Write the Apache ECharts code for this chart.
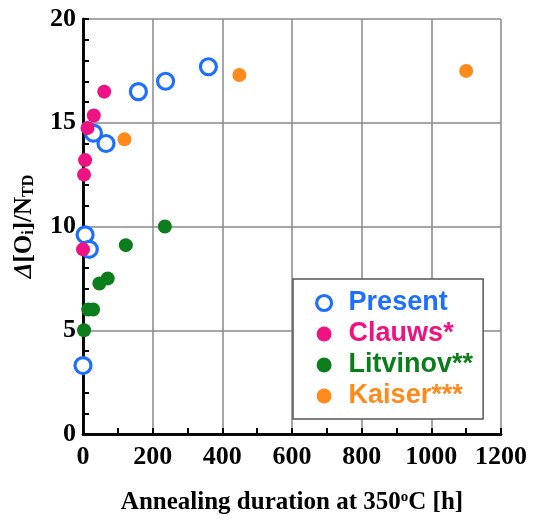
<!DOCTYPE html>
<html>
<head>
<meta charset="utf-8">
<script src="https://cdn.jsdelivr.net/npm/echarts@6/dist/echarts.min.js"></script>
<style>
  html, body { margin: 0; padding: 0; background: #fff; }
  #chart { width: 534px; height: 520px; }
</style>
</head>
<body>
<div id="chart"></div>
<script>
// annealing duration [h] and Δ[Oi]/NTD
const presentX = [360, 237, 159, 66, 30, 6, 18, 0];
const presentY = [17.7, 17.0, 16.5, 14.0, 14.5, 9.6, 8.9, 3.3];

const clauwsX = [61, 31, 13, 6, 3, 0];
const clauwsY = [16.5, 15.35, 14.75, 13.2, 12.5, 8.9];

const litvinovX = [235, 123, 71, 47, 29, 15, 3];
const litvinovY = [10.0, 9.1, 7.5, 7.25, 6.0, 6.0, 5.0];

const kaiserX = [449, 119, 1100];
const kaiserY = [17.3, 14.2, 17.5];

const seriesNames = ['Present', 'Clauws*', 'Litvinov**', 'Kaiser***'];
const seriesColors = ['#1f6fff', '#ee1282', '#0b7d1b', '#ff8a1c'];

const pairs = (xs, ys) => xs.map((x, i) => [x, ys[i]]);

const serif = 'Liberation Serif, Times New Roman, serif';
const sans = 'Liberation Sans, Arial, sans-serif';

const chart = echarts.init(document.getElementById('chart'));

const option = {
  animation: false,
  grid: { left: 83, top: 19, right: 33, bottom: 86 },
  legend: {
    orient: 'vertical',
    left: 293,
    top: 279,
    padding: [10, 10, 9, 22],
    itemGap: 3,
    itemWidth: 15,
    itemHeight: 15,
    borderColor: '#555',
    borderWidth: 1.5,
    backgroundColor: '#fff',
    textStyle: { fontFamily: sans, fontWeight: 'bold', fontSize: 27, lineHeight: 28, padding: [0, 0, 0, 12] },
    data: seriesNames.map((n, i) => ({
      name: n,
      textStyle: { color: seriesColors[i] },
      itemStyle: i === 0 ? { borderWidth: 3.2 } : undefined
    }))
  },
  xAxis: [{
    type: 'value',
    min: 0, max: 1200, interval: 200,
    name: 'Annealing duration at 350{sup|o}C [h]',
    nameLocation: 'middle',
    nameGap: 56,
    nameTextStyle: {
      fontFamily: serif, fontWeight: 'bold', fontSize: 25, color: '#000',
      rich: { sup: { fontFamily: serif, fontWeight: 'bold', fontSize: 15, verticalAlign: 'top', padding: [0, 0, 6, 0], color: '#000' } }
    },
    axisLine: { lineStyle: { color: '#000', width: 2.5 } },
    axisTick: { inside: true, length: 6, lineStyle: { color: '#000', width: 2 } },
    minorTick: { show: true, splitNumber: 2, length: 6, lineStyle: { color: '#000', width: 2 } },
    splitLine: { show: true, lineStyle: { color: '#888', width: 1.5 } },
    axisLabel: { fontFamily: serif, fontWeight: 'bold', fontSize: 26, color: '#000', margin: 10, formatter: v => String(v) }
  }, {
    type: 'value', position: 'top', min: 0, max: 1200,
    axisLine: { show: true, lineStyle: { color: '#000', width: 2.5 } },
    axisTick: { show: false }, axisLabel: { show: false }, splitLine: { show: false }
  }],
  yAxis: [{
    type: 'value',
    min: 0, max: 20, interval: 5,
    name: '{d|Δ}[O{s|i}]/N{s|TD}',
    nameLocation: 'middle',
    nameGap: 46,
    nameTextStyle: {
      fontFamily: serif, fontWeight: 'bold', fontSize: 25, color: '#000',
      rich: {
        d: { fontFamily: serif, fontStyle: 'italic', fontSize: 25, color: '#000' },
        s: { fontFamily: serif, fontWeight: 'bold', fontSize: 16, verticalAlign: 'bottom', padding: [8, 0, 0, 0], color: '#000' }
      }
    },
    axisLine: { lineStyle: { color: '#000', width: 2.5 } },
    axisTick: { inside: true, length: 6, lineStyle: { color: '#000', width: 2 } },
    minorTick: { show: true, splitNumber: 5, length: 6, lineStyle: { color: '#000', width: 2 } },
    splitLine: { show: true, lineStyle: { color: '#888', width: 1.5 } },
    axisLabel: { fontFamily: serif, fontWeight: 'bold', fontSize: 26, color: '#000', margin: 7 }
  }, {
    type: 'value', position: 'right', min: 0, max: 20,
    axisLine: { show: true, lineStyle: { color: '#000', width: 2.5 } },
    axisTick: { show: false }, axisLabel: { show: false }, splitLine: { show: false }
  }],
  series: [
    {
      name: seriesNames[0], type: 'scatter', symbol: 'circle', symbolSize: 16,
      itemStyle: { color: '#fff', borderColor: seriesColors[0], borderWidth: 3.2, opacity: 1 },
      data: pairs(presentX, presentY)
    },
    {
      name: seriesNames[1], type: 'scatter', symbolSize: 14,
      itemStyle: { color: seriesColors[1], opacity: 1 },
      data: pairs(clauwsX, clauwsY)
    },
    {
      name: seriesNames[2], type: 'scatter', symbolSize: 14,
      itemStyle: { color: seriesColors[2], opacity: 1 },
      data: pairs(litvinovX, litvinovY)
    },
    {
      name: seriesNames[3], type: 'scatter', symbolSize: 14,
      itemStyle: { color: seriesColors[3], opacity: 1 },
      data: pairs(kaiserX, kaiserY)
    }
  ]
};

chart.setOption(option);
</script>
</body>
</html>
